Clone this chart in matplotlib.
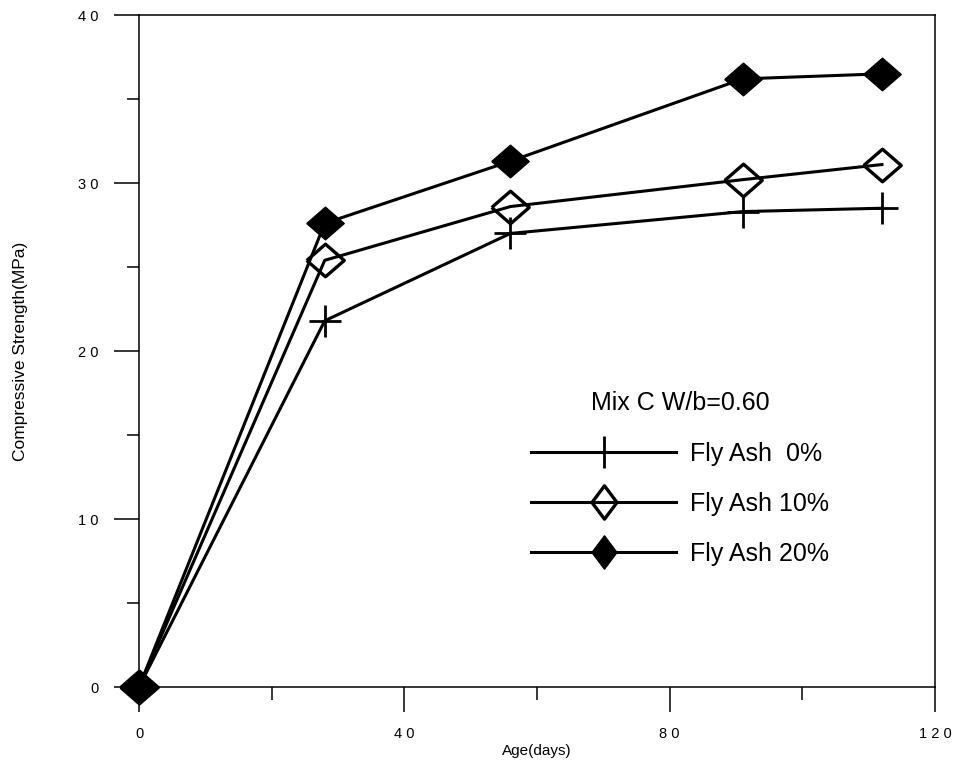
import numpy as np
import matplotlib
matplotlib.use("Agg")
import matplotlib.pyplot as plt
from matplotlib.lines import Line2D

# data
AGE = [0, 28, 56, 91, 112]
FA0 = [0, 21.8, 27.0, 28.3, 28.5]
FA10 = [0, 25.4, 28.6, 30.2, 31.1]
FA20 = [0, 27.6, 31.3, 36.2, 36.5]
LABELS = ["Fly Ash  0%", "Fly Ash 10%", "Fly Ash 20%"]
XTICKS = [0, 40, 80, 120]
YTICKS = [0, 10, 20, 30, 40]

plt.rcParams["font.family"] = ["Liberation Sans", "DejaVu Sans"]

wide_d = [(-1.15, 0), (0, 1), (1.15, 0), (0, -1), (-1.15, 0)]
thin_d = [(-0.75, 0), (0, 1), (0.75, 0), (0, -1), (-0.75, 0)]

fig = plt.figure(figsize=(9.58, 7.67), dpi=100)
ax = fig.add_axes([0.1451, 0.1043, 0.976 - 0.1451, 0.9804 - 0.1043])

lw = 2.2
ax.plot(AGE, FA0, color="black", lw=lw, marker="+", ms=23, mew=2.0,
        zorder=3, clip_on=False)
ax.plot(AGE, FA10, color="black", lw=lw, marker=wide_d, ms=27, mew=2.4,
        mfc="none", mec="black", zorder=4, clip_on=False)
ax.plot(AGE, FA20, color="black", lw=lw, marker=wide_d, ms=27, mew=1,
        mfc="black", mec="black", zorder=5, clip_on=False)

ax.set_xlim(0, 120)
ax.set_ylim(0, 40)
ax.set_xticks(XTICKS)
ax.set_xticklabels([" ".join(str(v)) for v in XTICKS])
ax.set_yticks(YTICKS)
ax.set_yticklabels([" ".join(str(v)) for v in YTICKS])
ax.set_xticks([20, 60, 100], minor=True)
ax.set_yticks([5, 15, 25, 35], minor=True)
ax.tick_params(which="major", direction="out", length=18, width=1.1,
               labelsize=10.5, pad=11)
ax.tick_params(which="minor", direction="out", length=9, width=1.1)
for s in ax.spines.values():
    s.set_linewidth(1.1)

ax.set_xlabel("Age(days)", fontsize=11, labelpad=2)
ax.set_ylabel("Compressive Strength(MPa)", fontsize=12.5, labelpad=36)

handles = [
    Line2D([], [], color="black", lw=lw, marker="+", ms=23, mew=2.0),
    Line2D([], [], color="black", lw=lw, marker=thin_d, ms=24, mew=2.4, mfc="none"),
    Line2D([], [], color="black", lw=lw, marker=thin_d, ms=24, mfc="black"),
]
leg = ax.legend(handles, LABELS, title="Mix C W/b=0.60", frameon=False,
                loc="center", bbox_to_anchor=(0.68, 0.31),
                prop={"size": 18}, title_fontproperties={"size": 18},
                handlelength=5.8, handletextpad=0.55, labelspacing=1.05)

fig.savefig("out.png", dpi=100)
